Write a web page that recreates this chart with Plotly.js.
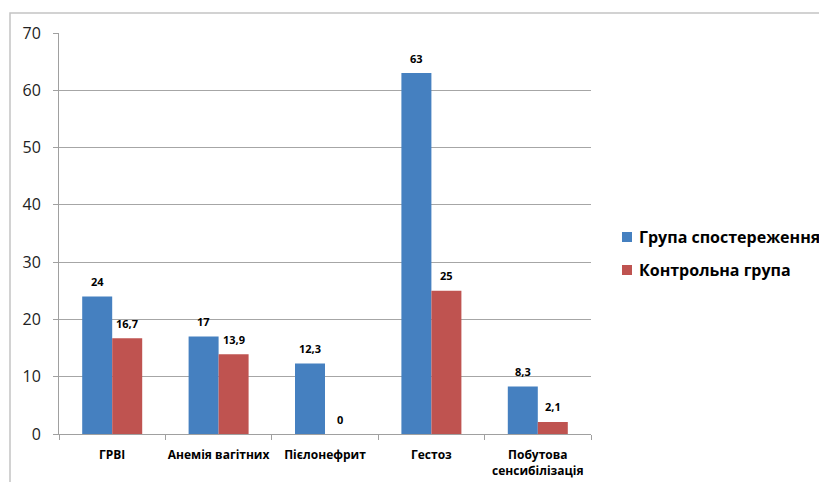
<!DOCTYPE html>
<html>
<head>
<meta charset="utf-8">
<script src="https://cdn.plot.ly/plotly-3.0.1.min.js"></script>
<style>
  html, body { margin: 0; padding: 0; background: #fff; }
  #chart { width: 819px; height: 482px; }
</style>
</head>
<body>
<div id="chart"></div>
<script>
// Частота ускладнень у групах (%)
const categories = ['ГРВІ', 'Анемія вагітних', 'Пієлонефрит', 'Гестоз', 'Побутова<br>сенсибілізація'];
const seriesNames = ['Група спостереження', 'Контрольна група'];
const groupObserved = [24, 17, 12.3, 63, 8.3];
const groupControl = [16.7, 13.9, 0, 25, 2.1];
const yTicks = [0, 10, 20, 30, 40, 50, 60, 70];

const FONT = '"Open Sans", "Noto Sans", sans-serif';
const COLORS = ['#4580c0', '#bf5350'];

function fmt(v) { return String(v).replace('.', ','); }

const seriesValues = [groupObserved, groupControl];

const traces = seriesValues.map((vals, s) => ({
  type: 'bar', name: seriesNames[s], x: categories, y: vals,
  marker: { color: COLORS[s] }, hoverinfo: 'none', showlegend: false
}));

// value labels above each bar
const annotations = [];
seriesValues.forEach((vals, s) => {
  vals.forEach((v, i) => {
    annotations.push({
      x: categories[i], y: v, xref: 'x', yref: 'y',
      text: '<b>' + fmt(v) + '</b>', showarrow: false,
      xshift: s === 0 ? -15 : 15, yshift: 15,
      font: { family: FONT, size: 11, color: '#000' }
    });
  });
});

// legend drawn at the right: coloured square + series name
const legendY = [0.4913, 0.4090];
const shapes = [];
seriesNames.forEach((name, s) => {
  shapes.push({
    type: 'rect', xref: 'paper', yref: 'paper',
    xsizemode: 'pixel', xanchor: 1.0583, x0: 0, x1: 10,
    ysizemode: 'pixel', yanchor: legendY[s], y0: -5, y1: 5,
    line: { width: 0 }, fillcolor: COLORS[s]
  });
  annotations.push({
    xref: 'paper', yref: 'paper', x: 1.0865, y: legendY[s],
    xanchor: 'left', yanchor: 'middle', showarrow: false,
    text: '<b>' + name + '</b>',
    font: { family: FONT, size: 16, color: '#000' }
  });
});

// outer frame of the chart area
shapes.push({
  type: 'rect', xref: 'paper', yref: 'paper',
  x0: -0.0921, x1: 1.6, y0: -0.3, y1: 1.0499,
  line: { color: '#c4c4c4', width: 1.5 }, fillcolor: 'rgba(0,0,0,0)'
});

const layout = {
  width: 819, height: 482,
  margin: { l: 59, r: 228, t: 33, b: 48, pad: 0 },
  paper_bgcolor: '#fff', plot_bgcolor: '#fff',
  barmode: 'group', bargap: 0.436, bargroupgap: 0,
  font: { family: FONT, color: '#222' },
  showlegend: false,
  xaxis: {
    type: 'category', showline: true, linecolor: '#a0a0a0', linewidth: 1,
    ticks: 'outside', tickson: 'boundaries', ticklen: 5, tickcolor: '#a0a0a0',
    tickangle: 0, ticklabelstandoff: 10,
    tickfont: { family: FONT, size: 12, color: '#000', weight: 'bold' },
    showgrid: false, fixedrange: true, automargin: false
  },
  yaxis: {
    range: [0, 70], tickvals: yTicks, showline: true, linecolor: '#a0a0a0', linewidth: 1,
    ticks: 'outside', ticklen: 5, tickcolor: '#a0a0a0', ticklabelstandoff: 9,
    showgrid: true, gridcolor: '#a6a6a6', gridwidth: 1, zeroline: false,
    tickfont: { family: FONT, size: 16, color: '#222' }, fixedrange: true, automargin: false
  },
  annotations: annotations,
  shapes: shapes
};

Plotly.newPlot('chart', traces, layout, { displayModeBar: false, staticPlot: true });
</script>
</body>
</html>
